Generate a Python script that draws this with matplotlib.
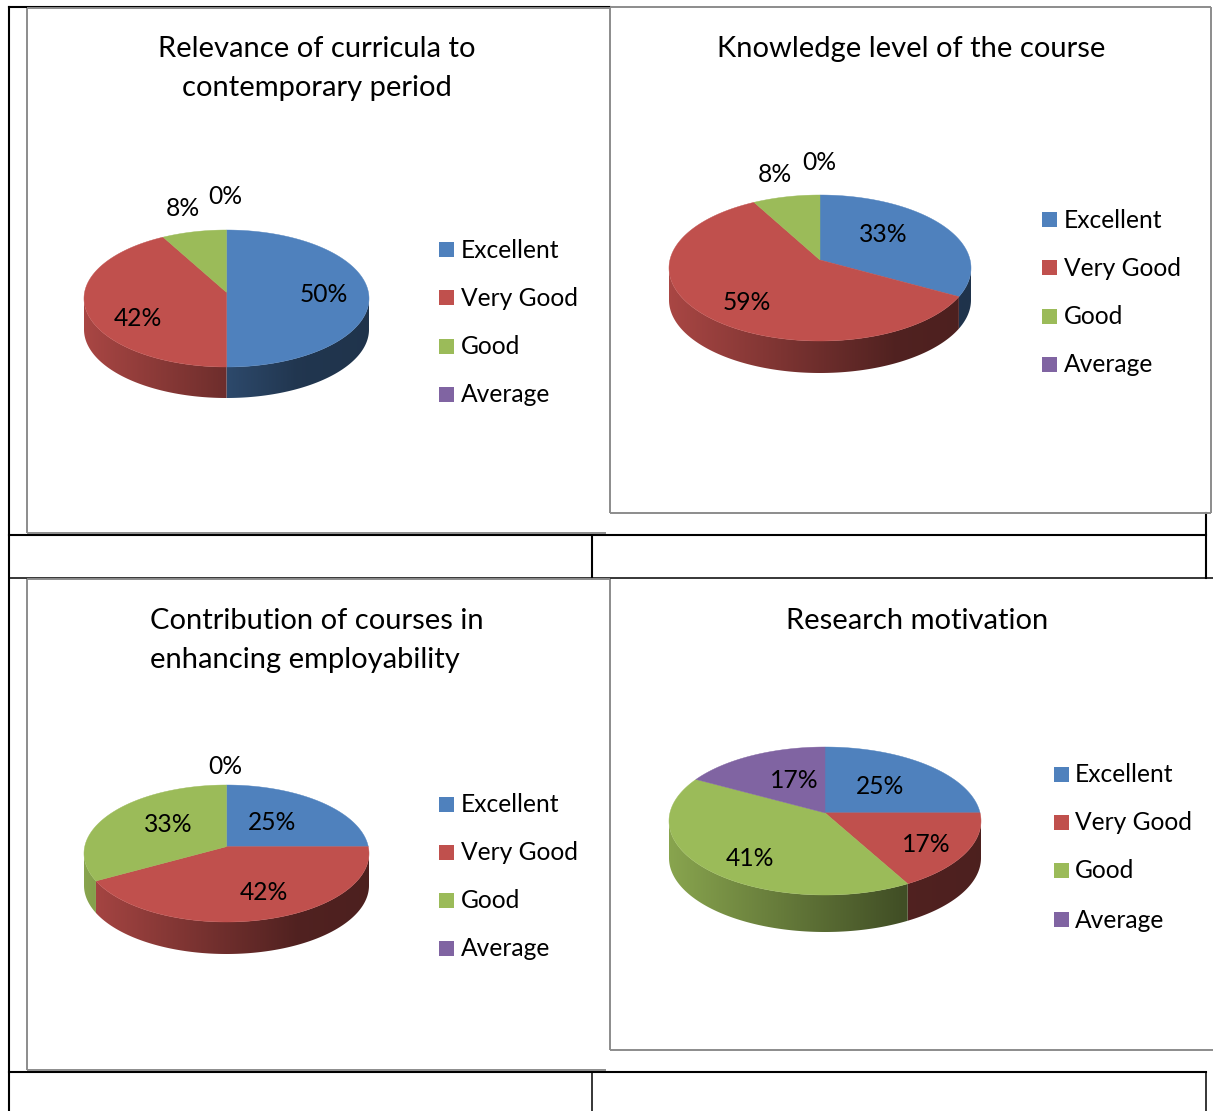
import matplotlib
matplotlib.use('Agg')
import matplotlib.pyplot as plt
from matplotlib.patches import Polygon, Rectangle
import numpy as np

plt.rcParams['font.family'] = ['Lato', 'DejaVu Sans']

# data
categories = ['Excellent', 'Very Good', 'Good', 'Average']
relevance = [50, 42, 8, 0]
knowledge = [33, 59, 8, 0]
employability = [25, 42, 33, 0]
research = [25, 17, 41, 17]
colors = ['#4F81BD', '#C0504D', '#9BBB59', '#8064A2']

W, H = 1213, 1111
TITLE_SIZE = 21
TEXT_SIZE = 17.7

# pie geometry in pixels: centre x, centre y, rx, ry, depth, apex shift
panels = [
    dict(values=relevance, geo=(226.5, 298.5, 142.5, 68.5, 31, 0.09),
         label_pos=[(324, 294), (138, 318), (183, 208), (225, 196)],
         legend=(439, 461, [250, 298, 347, 395]),
         title=[('Relevance of curricula to', 317, 49, 'center'),
                ('contemporary period', 317, 88, 'center')]),
    dict(values=knowledge, geo=(820, 268, 151, 73, 32, 0.11),
         label_pos=[(883, 234), (747, 302), (775, 174), (819, 162)],
         legend=(1042, 1064, [220, 268, 317, 365]),
         title=[('Knowledge level of the course', 911, 49, 'center')]),
    dict(values=employability, geo=(226.5, 853.5, 142.5, 68.5, 32, 0.1),
         label_pos=[(272, 822), (264, 892), (168, 824), (225, 766)],
         legend=(439, 461, [805, 853, 901, 949]),
         title=[('Contribution of courses in', 150, 621, 'left'),
                ('enhancing employability', 150, 660, 'left')]),
    dict(values=research, geo=(825, 821, 156, 74, 37, 0.11),
         label_pos=[(880, 786), (926, 844), (750, 858), (794, 780)],
         legend=(1054, 1075, [775, 823, 871, 920]),
         title=[('Research motivation', 917, 621, 'center')]),
]

# black table rules: (x0, y0, x1, y1, width)
table_lines = [
    (9, 7, 9, 1111, 1.5), (9, 7, 610, 7, 1.5),
    (9, 535, 1206, 535, 1.5), (9, 578, 1213, 578, 1.1),
    (592, 535, 592, 578, 1.5), (1206, 513, 1206, 578, 1.5),
    (9, 1072, 1206, 1072, 1.5), (592, 1072, 592, 1111, 1.1),
    (1206, 1072, 1206, 1111, 1.1),
]
# grey chart frames
frame_lines = [
    (27, 8, 27, 533), (27, 8, 610, 8), (27, 533, 606, 533),
    (610, 7, 610, 513), (610, 513, 1211, 513), (1211, 7, 1211, 513), (610, 7, 1211, 7),
    (27, 579, 27, 1070), (27, 1070, 606, 1070), (27, 579, 610, 579),
    (610, 579, 610, 1050), (610, 1050, 1213, 1050),
]


def project(theta, geo):
    # circle to ellipse, with the apex pushed back for the perspective
    cx, cy, rx, ry, depth, k = geo
    u, v = np.sin(theta), np.cos(theta)
    d = 1 + k * v
    x = cx + rx * u * np.sqrt(1 - k * k) / d
    y = cy - ry * (v + k) / d
    return x, y, v


def draw_pie(ax, values, geo):
    cx, cy, rx, ry, depth, k = geo
    edges = 2 * np.pi * np.cumsum([0] + values) / sum(values)
    ax_x = np.linspace(cx - rx, cx + rx, 256)
    frac = (ax_x - ax_x[0]) / (ax_x[-1] - ax_x[0])
    shade = np.interp(frac, [0, 0.5, 0.75, 1], [0.88, 0.57, 0.42, 0.40])

    # side walls first
    for i, val in enumerate(values):
        if val == 0:
            continue
        th = np.linspace(edges[i], edges[i + 1], 300)
        x, y, v = project(th, geo)
        # front half only
        yc = cy
        mask = y >= yc
        if mask.sum() < 2:
            continue
        x, y = x[mask], y[mask]
        verts = np.r_[np.c_[x, y], np.c_[x[::-1], y[::-1] + depth]]
        base = np.array(matplotlib.colors.to_rgb(colors[i]))
        img = (shade[:, None] * base)[None, :, :]
        im = ax.imshow(img, extent=(cx - rx, cx + rx, cy + ry + depth + 2, cy - 2),
                       aspect='auto', interpolation='bilinear', zorder=2)
        clip = Polygon(verts, closed=True, transform=ax.transData)
        im.set_clip_path(clip)

    # top faces
    ax_apex = (cx, cy - ry * k)
    for i, val in enumerate(values):
        if val == 0:
            continue
        th = np.linspace(edges[i], edges[i + 1], 300)
        x, y, v = project(th, geo)
        ax.fill(np.r_[ax_apex[0], x], np.r_[ax_apex[1], y], color=colors[i], lw=0.3, zorder=3)


fig = plt.figure(figsize=(W / 100, H / 100), dpi=100)
ax = fig.add_axes([0, 0, 1, 1])

for x0, y0, x1, y1 in frame_lines:
    ax.plot([x0, x1], [y0, y1], color='#8c8c8c', lw=1.4, solid_capstyle='butt', zorder=1.6)
for x0, y0, x1, y1, w in table_lines:
    ax.plot([x0, x1], [y0, y1], color='black', lw=w, solid_capstyle='projecting', zorder=1.5)

for p in panels:
    draw_pie(ax, p['values'], p['geo'])
    for val, (lx, ly) in zip(p['values'], p['label_pos']):
        ax.text(lx, ly, f'{val}%', fontsize=TEXT_SIZE, ha='center', va='center', color='black', zorder=5)
    sx, tx, ys = p['legend']
    for name, col, ly in zip(categories, colors, ys):
        ax.add_patch(Rectangle((sx, ly - 8.5), 15, 15, color=col, lw=0, zorder=4))
        ax.text(tx, ly, name, fontsize=TEXT_SIZE, ha='left', va='center', color='black', zorder=5)
    for txt, tx, ty, ha in p['title']:
        ax.text(tx, ty, txt, fontsize=TITLE_SIZE, ha=ha, va='center', color='black', zorder=5)

ax.set_xlim(0, W)
ax.set_ylim(H, 0)
ax.axis('off')

fig.savefig('out.png', dpi=100)
